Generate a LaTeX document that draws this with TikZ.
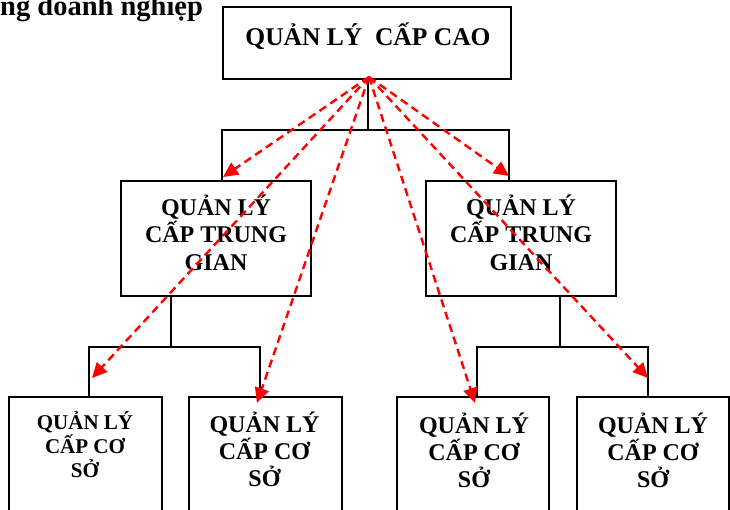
\documentclass[tikz,border=0pt]{standalone}
\usepackage{fontspec}
\setmainfont{Liberation Serif}
\usetikzlibrary{arrows.meta}
\newcommand\stk[1]{\vtop{\halign{\hfil##\hfil\cr#1\crcr}}}
\begin{document}
\begin{tikzpicture}[x=1pt,y=-1pt,
  box/.style={draw=black,line width=2pt,inner sep=0pt,rectangle},
  conn/.style={draw=black,line width=2pt},
  lbltop/.style={inner sep=0pt,anchor=base,font=\bfseries\fontsize{25.5}{28}\selectfont},
  lbl/.style={inner sep=0pt,anchor=base,font=\bfseries\fontsize{24}{27.5}\selectfont},
  lblsm/.style={inner sep=0pt,anchor=base,font=\bfseries\fontsize{21}{24}\selectfont},
  lbllo/.style={inner sep=0pt,anchor=base,font=\bfseries\fontsize{24}{27}\selectfont},
  redarrow/.style={draw=red,line width=2.4pt,dash pattern=on 8pt off 5pt,-{Triangle[length=15pt,width=14pt]}}]
\useasboundingbox (0,0) rectangle (730,509);
\clip (0,0) rectangle (730,509);
% title fragment
\node[inner sep=0pt,anchor=base west,font=\bfseries\fontsize{28.5}{30}\selectfont] (title) at (0,15) {ng doanh nghiệp};
% boxes
\node[box,minimum width=288pt,minimum height=72pt] (top) at (367,43) {};
\node[box,minimum width=190pt,minimum height=115pt] (ml) at (216,238.5) {};
\node[box,minimum width=190pt,minimum height=115pt] (mr) at (521,238.5) {};
\node[box,minimum width=153pt,minimum height=133pt] (b1) at (85.5,463.5) {};
\node[box,minimum width=153pt,minimum height=133pt] (b2) at (265.5,463.5) {};
\node[box,minimum width=152pt,minimum height=133pt] (b3) at (473,463.5) {};
\node[box,minimum width=152pt,minimum height=133pt] (b4) at (653,463.5) {};
% labels
\node[lbltop] (ttop) at (368,45) {\stk{QUẢN LÝ\ \ CẤP CAO}};
\node[lbl] (tml) at (216,215) {\stk{QUẢN LÝ\cr CẤP TRUNG\cr GIAN}};
\node[lbl] (tmr) at (521,215) {\stk{QUẢN LÝ\cr CẤP TRUNG\cr GIAN}};
\node[lblsm] (tb1) at (85,429) {\stk{QUẢN LÝ\cr CẤP CƠ\cr SỞ}};
\node[lbllo] (tb2) at (264.5,432) {\stk{QUẢN LÝ\cr CẤP CƠ\cr SỞ}};
\node[lbllo] (tb3) at (474,433) {\stk{QUẢN LÝ\cr CẤP CƠ\cr SỞ}};
\node[lbllo] (tb4) at (653,433) {\stk{QUẢN LÝ\cr CẤP CƠ\cr SỞ}};
% tree connectors
\coordinate (j0) at (368,130);
\coordinate (xl) at (222,0);
\coordinate (xr) at (509,0);
\draw[conn] (top.south -| j0) -- (j0);
\draw[conn] (ml.north -| xl) |- (j0) -| (mr.north -| xr);
\coordinate (j1) at (171,347);
\coordinate (x1) at (89,0);
\coordinate (x2) at (260,0);
\draw[conn] (ml.south -| j1) -- (j1);
\draw[conn] (b1.north -| x1) |- (j1) -| (b2.north -| x2);
\coordinate (j2) at (560,347);
\coordinate (x3) at (477,0);
\coordinate (x4) at (648,0);
\draw[conn] (mr.south -| j2) -- (j2);
\draw[conn] (b3.north -| x3) |- (j2) -| (b4.north -| x4);
% red dashed arrows
\coordinate (src) at (369,77);
\coordinate (e1) at (223,177);
\coordinate (e2) at (509,176);
\coordinate (e3) at (92,378);
\coordinate (e4) at (257,403);
\coordinate (e5) at (475,403);
\coordinate (e6) at (648,378);
\foreach \e in {e1,e2,e3,e4,e5,e6}{\draw[redarrow] (src) -- (\e);}
\end{tikzpicture}
\end{document}
